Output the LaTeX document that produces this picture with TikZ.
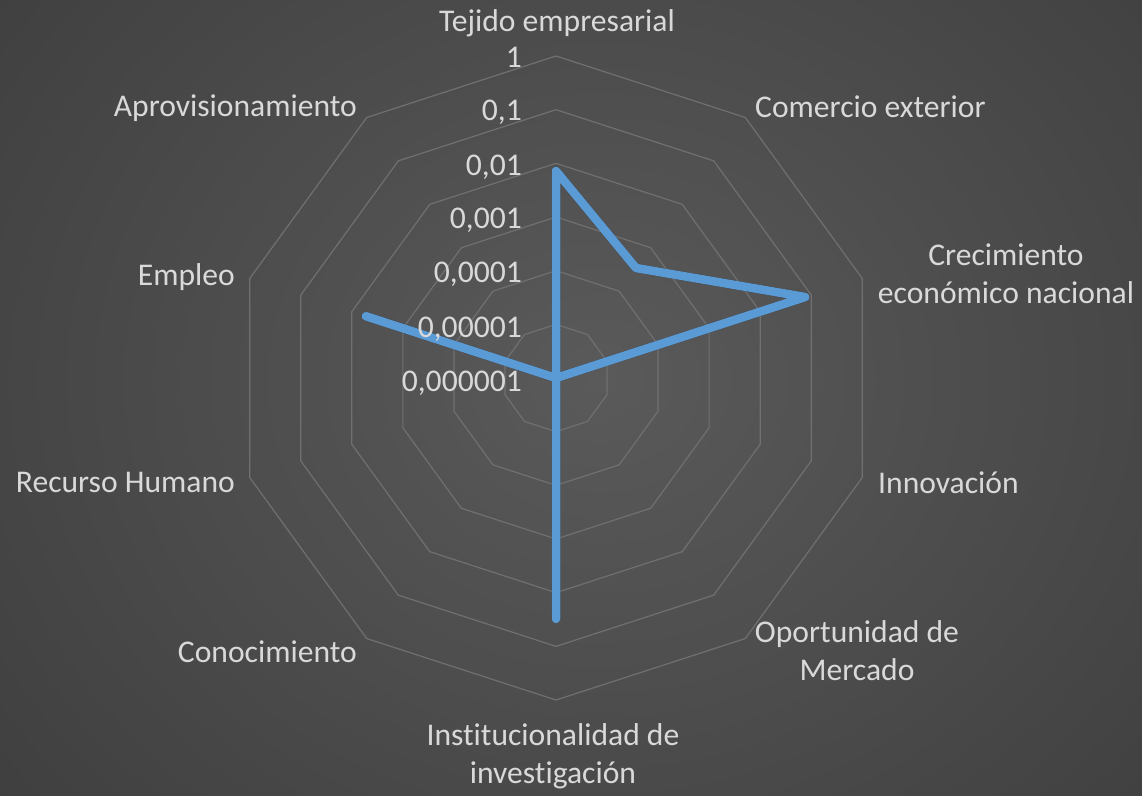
\documentclass[tikz,border=0pt]{standalone}
\usepackage{fontspec}
\setmainfont{Carlito}[Ligatures={NoCommon,NoRare}]
\definecolor{bginner}{RGB}{90,90,90}
\definecolor{bgouter}{RGB}{38,38,38}
\definecolor{gridc}{RGB}{112,112,112}
\definecolor{labc}{RGB}{217,217,217}
\definecolor{seriesc}{RGB}{91,155,213}
\tikzset{
  lab/.style={inner sep=0pt, text=labc, font=\fontsize{31.6}{38}\selectfont},
  gridring/.style={draw=gridc, line width=1.2pt},
  series/.style={draw=seriesc, line width=8.5pt, line join=round, line cap=round},
  seriesshadow/.style={draw=black, opacity=0.18, line width=9pt, line join=round, line cap=round},
}
\begin{document}
\begin{tikzpicture}[x=1pt,y=-1pt]
\useasboundingbox (0,0) rectangle (1142,795);
\begin{scope}
  \clip (0,0) rectangle (1142,795);
  \shade[inner color=bginner, outer color=bgouter] (600,380) ellipse (1500 and 1300);
\end{scope}
\coordinate (C) at (556,378);
% grid rings
\foreach \k in {1,...,6}{
  \draw[gridring] ({556+53.67*\k*sin(0)},{378-53.67*\k*cos(0)})
    \foreach \a in {36,72,...,324}{ -- ({556+53.67*\k*sin(\a)},{378-53.67*\k*cos(\a)}) } -- cycle;
}
% data points
\coordinate (tej) at ({556+207*sin(0)},{378-207*cos(0)});
\coordinate (com) at ({556+136*sin(36)},{378-136*cos(36)});
\coordinate (cre) at ({556+262*sin(72)},{378-262*cos(72)});
\coordinate (ins) at ({556+241*sin(180)},{378-241*cos(180)});
\coordinate (emp) at ({556+200*sin(288)},{378-200*cos(288)});
\begin{scope}[shift={(2.5,3.5)}]
  \draw[seriesshadow] (tej) -- (com) -- (cre) -- (C) -- (ins) -- (C) -- (emp) -- (C) -- cycle;
\end{scope}
\draw[series] (tej) -- (com) -- (cre) -- (C) -- (ins) -- (C) -- (emp) -- (C) -- cycle;
% axis value labels
\node[lab, anchor=base east] (v0) at (522,67) {1};
\node[lab, anchor=base east] (v1) at (522,120) {0,1};
\node[lab, anchor=base east] (v2) at (522,175) {0,01};
\node[lab, anchor=base east] (v3) at (522,228) {0,001};
\node[lab, anchor=base east] (v4) at (522,282) {0,0001};
\node[lab, anchor=base east] (v5) at (522,337) {0,00001};
\node[lab, anchor=base east] (v6) at (522,391) {0,000001};
% category labels
\node[lab, anchor=base] (l0) at (557,31) {Tejido empresarial};
\node[lab, anchor=base west] (l1) at (755,117) {Comercio exterior};
\node[lab, anchor=base, align=center] (l2) at (1006,303) {Crecimiento\\económico nacional};
\node[lab, anchor=base west] (l3) at (878,493) {Innovación};
\node[lab, anchor=base, align=center] (l4) at (857,680) {Oportunidad de\\Mercado};
\node[lab, anchor=base, align=center] (l5) at (553,783) {Institucionalidad de\\investigación};
\node[lab, anchor=base east] (l6) at (357,662) {Conocimiento};
\node[lab, anchor=base east] (l7) at (235,492) {Recurso Humano};
\node[lab, anchor=base east] (l8) at (235,285) {Empleo};
\node[lab, anchor=base east] (l9) at (357,116) {Aprovisionamiento};
\end{tikzpicture}
\end{document}
